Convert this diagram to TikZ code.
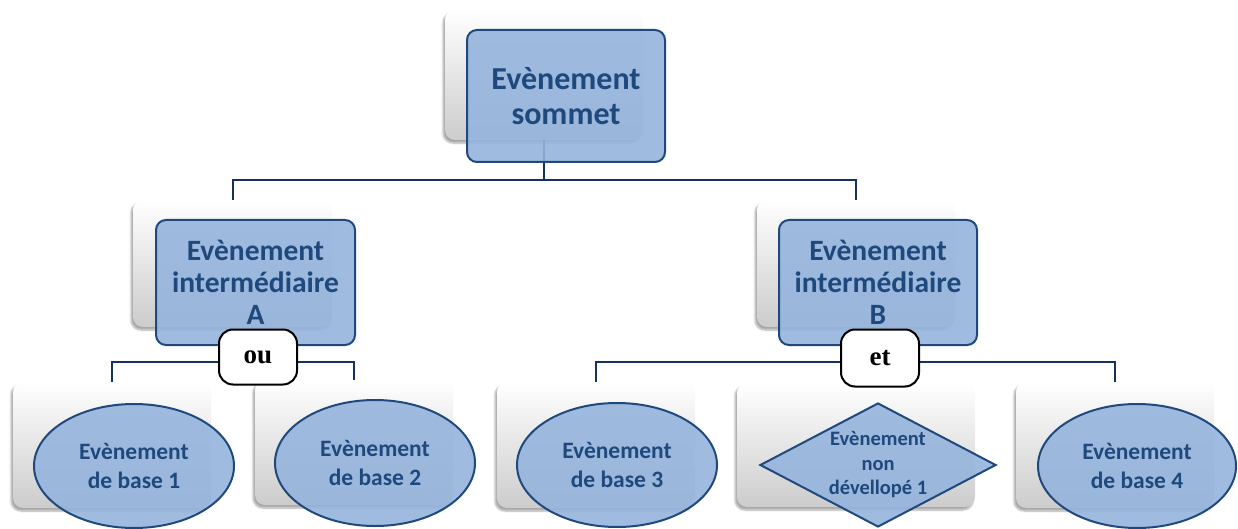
\documentclass[tikz,border=0pt]{standalone}
\usepackage{fontspec}
\setmainfont{Carlito}
\newfontfamily\gatefont{Liberation Serif}
\usetikzlibrary{shapes.geometric,shadows.blur}

\definecolor{evfill}{RGB}{149,180,221}
\definecolor{evline}{RGB}{31,73,125}
\definecolor{evtext}{RGB}{31,73,125}
\definecolor{wire}{RGB}{22,50,92}

\tikzset{
  backcard/.style={rectangle, rounded corners=10pt, draw=none,
    top color=white, bottom color=black!20,
    blur shadow={shadow xshift=-2pt, shadow yshift=-3pt,
                 shadow blur steps=6, shadow opacity=35}},
  evshape/.style={draw=evline, line width=2pt, fill=evfill, fill opacity=0.9,
    text opacity=1, text=evtext, align=center, inner sep=0pt},
  eventbox/.style={evshape, rectangle, rounded corners=10pt},
  basic/.style={evshape, ellipse, minimum width=200pt, minimum height=124pt,
    font=\bfseries\fontsize{23.5}{29}\selectfont},
  undev/.style={evshape, diamond, aspect=1.9, minimum width=236pt, minimum height=124pt,
    font=\bfseries\fontsize{20.5}{24.5}\selectfont},
  gate/.style={rectangle, rounded corners=14pt, draw=black, line width=2pt,
    fill=white, minimum width=78pt, minimum height=55pt,
    font=\gatefont\bfseries\fontsize{27}{30}\selectfont},
  wireline/.style={draw=wire, line width=2pt}
}

\begin{document}
\begin{tikzpicture}[x=1pt, y=-1pt]
  \useasboundingbox (0,0) rectangle (1238,529);

  % back cards
  \node[backcard, minimum width=198pt, minimum height=130pt] (sTop) at (544,75) {};
  \node[backcard, minimum width=199pt, minimum height=127pt] (sA) at (232.5,263.5) {};
  \node[backcard, minimum width=198pt, minimum height=127pt] (sB) at (856,263.5) {};
  \node[backcard, minimum width=198pt, minimum height=126pt] (s1) at (112,445) {};
  \node[backcard, minimum width=198pt, minimum height=125pt] (s2) at (354,442.5) {};
  \node[backcard, minimum width=198pt, minimum height=126pt] (s3) at (596,445) {};
  \node[backcard, minimum width=238pt, minimum height=124pt] (s4) at (856,445) {};
  \node[backcard, minimum width=198pt, minimum height=126pt] (s5) at (1115,445) {};

  % connectors
  \coordinate (busTop) at (544,180);
  \coordinate (busA) at (258,362);
  \coordinate (busB) at (880,362);
  \draw[wireline] (sTop.south) -- (busTop);
  \draw[wireline] (sA.north) |- (busTop) -| (sB.north);
  \draw[wireline] (s1.north) |- (busA) -| (s2.north);
  \draw[wireline] (s3.north) |- (busB) -| (s5.north);
  \draw[wireline] (s4.north) -- (s4.north |- busB);

  % events
  \node[eventbox, minimum width=198pt, minimum height=132pt,
        font=\bfseries\fontsize{32}{35}\selectfont] (top) at (566,96)
        {Evènement\\sommet};
  \node[eventbox, minimum width=199pt, minimum height=125pt,
        font=\bfseries\fontsize{29.5}{32}\selectfont] (evA) at (255.5,282.5)
        {Evènement\\intermédiaire\\A};
  \node[eventbox, minimum width=198pt, minimum height=125pt,
        font=\bfseries\fontsize{29.5}{32}\selectfont] (evB) at (878,282.5)
        {Evènement\\intermédiaire\\B};

  \node[basic] (b1) at (134,466) {Evènement\\de base 1};
  \node[basic, minimum height=126pt] (b2) at (375,463) {Evènement\\de base 2};
  \node[basic] (b3) at (617,465) {Evènement\\de base 3};
  \node[undev] (u1) at (878,465) {Evènement\\non\\dévellopé 1};
  \node[basic, minimum width=198pt] (b4) at (1137,466) {Evènement\\de base 4};

  % gates
  \node[gate] (gOu) at (258,357) {ou};
  \node[gate, minimum height=57pt] (gEt) at (880,358) {et};
\end{tikzpicture}
\end{document}
